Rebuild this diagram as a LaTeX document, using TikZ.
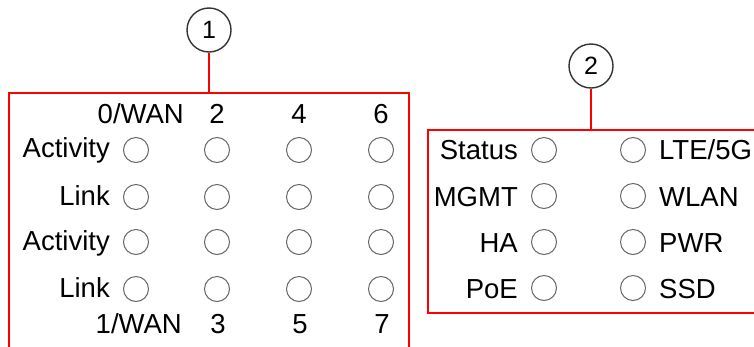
\documentclass[tikz,border=0pt]{standalone}
\usepackage{fontspec}
\setmainfont{Liberation Sans}
\begin{document}
\begin{tikzpicture}[x=1pt,y=-1pt,
  lbl/.style={inner sep=0pt,font=\fontsize{27.5}{32}\selectfont},
  led/.style={circle,draw=black!60,line width=1pt,minimum size=25pt,inner sep=0pt},
  callout/.style={circle,draw=black!80,line width=1.4pt,minimum size=44pt,inner sep=0pt,font=\fontsize{25}{30}\selectfont},
  frame/.style={draw=red,line width=2pt}]
\useasboundingbox (0,0) rectangle (754,346);
% callouts
\node[callout] (c1) at (209,30) {1};
\node[callout] (c2) at (591,66) {2};
\coordinate (t1) at (209,93);
\coordinate (t2) at (591,130);
\draw[frame] (c1) -- (t1);
\draw[frame] (c2) -- (t2);
% frames
\draw[frame] (9,350) -- (9,93) -- (409,93) -- (409,350);
\draw[frame] (760,130) -- (428,130) -- (428,313) -- (760,313);
% left block
\foreach \c/\x in {1/136,2/217,3/299,4/381}{
  \foreach \r/\y in {1/150,2/197,3/242,4/289}{
    \node[led] (L\c\r) at (\x,\y) {};
  }
}
\node[lbl,anchor=base east] (h0) at (184,123) {0/WAN};
\node[lbl,anchor=base] (h2) at (217,123) {2};
\node[lbl,anchor=base] (h4) at (299,123) {4};
\node[lbl,anchor=base] (h6) at (381,123) {6};
\node[lbl,anchor=base east] (b1) at (182,333) {1/WAN};
\node[lbl,anchor=base] (b3) at (218,333) {3};
\node[lbl,anchor=base] (b5) at (300,333) {5};
\node[lbl,anchor=base] (b7) at (382,333) {7};
\node[lbl,anchor=base east] (ra1) at (110,157) {Activity};
\node[lbl,anchor=base east] (rl1) at (110,205) {Link};
\node[lbl,anchor=base east] (ra2) at (110,250) {Activity};
\node[lbl,anchor=base east] (rl2) at (110,297) {Link};
% right block
\foreach \r/\y in {1/150,2/196,3/242,4/288}{
  \node[led] (RA\r) at (544,\y) {};
  \node[led] (RB\r) at (633,\y) {};
}
\node[lbl,anchor=base east] (s1) at (518,159) {Status};
\node[lbl,anchor=base east] (s2) at (518,206) {MGMT};
\node[lbl,anchor=base east] (s3) at (518,252) {HA};
\node[lbl,anchor=base east] (s4) at (518,298) {PoE};
\node[lbl,anchor=base west] (t1l) at (659,159) {LTE/5G};
\node[lbl,anchor=base west] (t2l) at (659,206) {WLAN};
\node[lbl,anchor=base west] (t3l) at (659,252) {PWR};
\node[lbl,anchor=base west] (t4l) at (659,298) {SSD};
\end{tikzpicture}
\end{document}
